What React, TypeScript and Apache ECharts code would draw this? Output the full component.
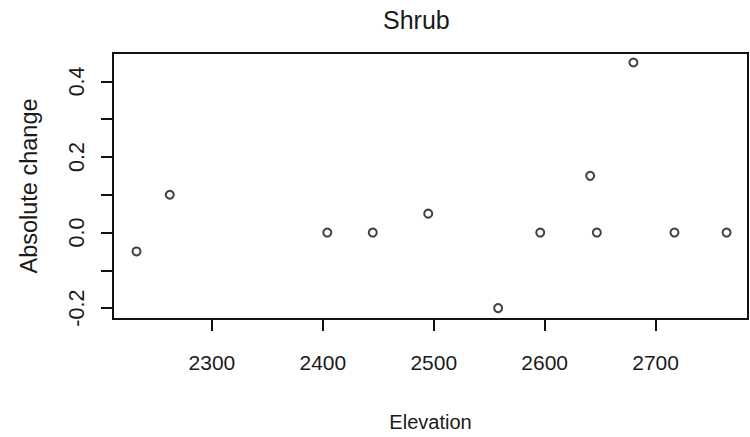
import React, { useEffect, useRef } from "react";
import * as echarts from "echarts";

const elevation = [2232, 2262, 2404, 2445, 2495, 2558, 2596, 2641, 2647, 2680, 2717, 2764];
const absoluteChange = [-0.05, 0.1, 0, 0, 0.05, -0.2, 0, 0.15, 0, 0.45, 0, 0];
const xTickValues = [2300, 2400, 2500, 2600, 2700];
const yTickValues = [-0.2, -0.1, 0, 0.1, 0.2, 0.3, 0.4];
const yLabelValues = [-0.2, 0, 0.2, 0.4];
const titleText = "Shrub";
const xName = "Elevation";
const yName = "Absolute change";

const SANS = "'Liberation Sans', Arial, Helvetica, sans-serif";

export default function App() {
  const ref = useRef<HTMLDivElement>(null);
  useEffect(() => {
    document.body.style.margin = "0";
    const chart = echarts.init(ref.current!, null, { renderer: "svg" });
    chart.setOption({
      animation: false,
      backgroundColor: "#ffffff",
      title: {
        text: titleText,
        left: 383,
        top: 7,
        padding: 0,
        textStyle: { fontFamily: SANS, fontSize: 25, fontWeight: "normal", color: "#1a1a1a" },
      },
      grid: {
        left: 113,
        top: 53,
        right: 2,
        bottom: 115,
        show: true,
        borderColor: "#111",
        borderWidth: 2,
        backgroundColor: "transparent",
      },
      xAxis: {
        type: "value",
        min: 2210.8,
        max: 2783.3,
        name: xName,
        nameLocation: "middle",
        nameGap: 93,
        nameTextStyle: { fontFamily: SANS, fontSize: 20, color: "#1a1a1a" },
        axisLine: { show: false, onZero: false },
        splitLine: { show: false },
        axisTick: {
          show: true,
          length: 12,
          customValues: xTickValues,
          lineStyle: { color: "#111", width: 2 },
        },
        axisLabel: {
          customValues: xTickValues,
          margin: 33,
          fontFamily: SANS,
          fontSize: 21,
          color: "#1a1a1a",
          formatter: (v: number) => String(v),
        },
      },
      yAxis: {
        type: "value",
        min: -0.2288,
        max: 0.4752,
        name: yName,
        nameLocation: "middle",
        nameGap: 72,
        nameRotate: 90,
        nameTextStyle: { fontFamily: SANS, fontSize: 23.5, color: "#1a1a1a" },
        axisLine: { show: false, onZero: false },
        splitLine: { show: false },
        axisTick: {
          show: true,
          length: 12,
          customValues: yTickValues,
          lineStyle: { color: "#111", width: 2 },
        },
        axisLabel: {
          customValues: yLabelValues,
          rotate: 90,
          margin: 25,
          fontFamily: SANS,
          fontSize: 21.5,
          color: "#1a1a1a",
          formatter: (v: number) => v.toFixed(1),
        },
      },
      series: [
        {
          type: "scatter",
          data: elevation.map((x, i) => [x, absoluteChange[i]]),
          symbol: "circle",
          symbolSize: 8,
          itemStyle: { color: "#ffffff", borderColor: "#111", borderWidth: 2 },
        },
      ],
    });
    return () => chart.dispose();
  }, []);
  return <div ref={ref} style={{ width: 750, height: 437 }} />;
}
